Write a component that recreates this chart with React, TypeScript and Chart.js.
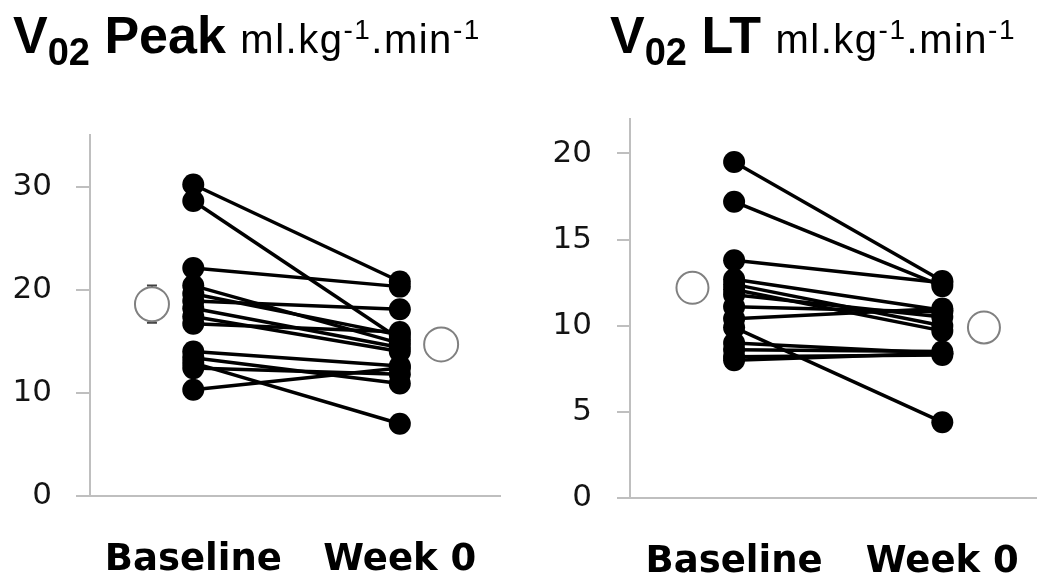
import React, { useEffect, useRef } from 'react';
import { Chart, registerables } from 'chart.js';

Chart.register(...registerables);

// ---- data ----
const categories = ['Baseline', 'Week 0'];

const peakBaseline = [30.2, 28.6, 22.1, 20.4, 19.6, 18.9, 18.2, 17.4, 16.7, 14.0, 13.4, 12.9, 12.4, 10.3];
const peakWeek0 = [20.8, 15.2, 20.3, 14.8, 15.6, 18.1, 14.4, 14.0, 15.9, 12.6, 10.9, 7.0, 11.8, 12.4];
const peakMeans = [18.6, 14.7];
const peakErrors = [1.8, 1.0];
const peakTicks = [0, 10, 20, 30];

const ltBaseline = [19.5, 17.2, 13.8, 12.7, 12.4, 12.1, 11.8, 11.1, 10.4, 9.9, 9.0, 8.6, 8.2, 8.0];
const ltWeek0 = [12.6, 12.3, 12.5, 10.9, 10.0, 9.7, 10.5, 10.8, 11.0, 4.4, 8.4, 8.5, 8.3, 8.4];
const ltMeans = [12.2, 9.9];
const ltErrors = [0.8, 0.7];
const ltTicks = [0, 5, 10, 15, 20];

// category positions on the linear x axis
const CAT_X = [1, 3];
const MEAN_X = [0.6, 3.4];

type PanelCfg = {
  left: number;
  baseline: number[];
  week0: number[];
  means: number[];
  errors: number[];
  ticks: number[];
  yMax: number;
  xMax: number;
  axisW: number;
  xAxisH: number;
  padTop: number;
  padRight: number;
  tickLen: number;
  tickPad: number;
  meanR: number;
};

const PANELS: PanelCfg[] = [
  {
    left: 0, baseline: peakBaseline, week0: peakWeek0, means: peakMeans, errors: peakErrors,
    ticks: peakTicks, yMax: 35, xMax: 3.97, axisW: 90, xAxisH: 89, padTop: 135, padRight: 19,
    tickLen: 14, tickPad: 24, meanR: 17,
  },
  {
    left: 519, baseline: ltBaseline, week0: ltWeek0, means: ltMeans, errors: ltErrors,
    ticks: ltTicks, yMax: 22, xMax: 3.9, axisW: 111, xAxisH: 87, padTop: 119, padRight: 2,
    tickLen: 13, tickPad: 25, meanR: 16,
  },
];

const AXIS_COLOR = '#bfbfbf';

function Panel({ cfg }: { cfg: PanelCfg }) {
  const ref = useRef<HTMLCanvasElement | null>(null);
  useEffect(() => {
    if (!ref.current) return;
    const datasets: any[] = [];
    datasets.push({
      type: 'scatter',
      data: cfg.means.map((m, i) => ({ x: MEAN_X[i], y: m })),
      pointRadius: cfg.meanR,
      pointHoverRadius: cfg.meanR,
      pointBackgroundColor: '#ffffff',
      pointBorderColor: '#808080',
      pointBorderWidth: 2,
      showLine: false,
      clip: false,
    });
    cfg.baseline.forEach((b, i) => {
      datasets.push({
        type: 'line',
        data: [
          { x: CAT_X[0], y: b },
          { x: CAT_X[1], y: cfg.week0[i] },
        ],
        borderColor: '#000000',
        borderWidth: 3.5,
        pointRadius: 11,
        pointHoverRadius: 11,
        pointBackgroundColor: '#000000',
        pointBorderColor: '#000000',
        pointBorderWidth: 0,
        tension: 0,
        clip: false,
      });
    });

    const errorBars = {
      id: 'errorBars',
      beforeDatasetsDraw(chart: any) {
        const { ctx, scales } = chart;
        const xs = scales.x;
        const ys = scales.y;
        ctx.save();
        ctx.strokeStyle = '#404040';
        ctx.lineWidth = 2;
        cfg.means.forEach((m, i) => {
          const px = xs.getPixelForValue(MEAN_X[i]);
          const top = ys.getPixelForValue(m + cfg.errors[i]);
          const bot = ys.getPixelForValue(m - cfg.errors[i]);
          ctx.beginPath();
          ctx.moveTo(px, top);
          ctx.lineTo(px, bot);
          ctx.moveTo(px - 5, top);
          ctx.lineTo(px + 5, top);
          ctx.moveTo(px - 5, bot);
          ctx.lineTo(px + 5, bot);
          ctx.stroke();
        });
        ctx.restore();
      },
    };

    const chart = new Chart(ref.current, {
      type: 'line',
      data: { datasets },
      plugins: [errorBars],
      options: {
        animation: false,
        responsive: false,
        maintainAspectRatio: false,
        devicePixelRatio: 1,
        events: [],
        layout: {
          autoPadding: false,
          padding: { top: cfg.padTop, right: cfg.padRight, left: 0, bottom: 0 },
        },
        plugins: { legend: { display: false }, tooltip: { enabled: false }, title: { display: false } },
        scales: {
          x: {
            type: 'linear',
            min: 0,
            max: cfg.xMax,
            afterBuildTicks: (s: any) => {
              s.ticks = CAT_X.map((v) => ({ value: v }));
            },
            afterFit: (s: any) => {
              s.height = cfg.xAxisH;
              s.paddingLeft = 0;
              s.paddingRight = 0;
              s.paddingTop = 0;
              s.paddingBottom = 0;
            },
            ticks: {
              autoSkip: false,
              maxRotation: 0,
              minRotation: 0,
              padding: 42,
              color: '#000000',
              font: { family: '"DejaVu Sans", sans-serif', size: 37, weight: 'bold' },
              callback: (v: any) => {
                const idx = CAT_X.indexOf(Number(v));
                return idx >= 0 ? categories[idx] : '';
              },
            },
            grid: { display: false, drawTicks: false },
            border: { display: true, color: AXIS_COLOR, width: 2 },
          },
          y: {
            type: 'linear',
            min: 0,
            max: cfg.yMax,
            afterBuildTicks: (s: any) => {
              s.ticks = cfg.ticks.map((v) => ({ value: v }));
            },
            afterFit: (s: any) => {
              s.width = cfg.axisW;
              s.paddingTop = 0;
              s.paddingBottom = 0;
            },
            ticks: {
              padding: cfg.tickPad,
              color: '#141414',
              font: { family: '"DejaVu Sans", sans-serif', size: 31 },
            },
            grid: {
              drawOnChartArea: false,
              drawTicks: true,
              tickLength: cfg.tickLen,
              color: AXIS_COLOR,
              lineWidth: 2,
            },
            border: { display: true, color: AXIS_COLOR, width: 2 },
          },
        },
      } as any,
    });
    return () => chart.destroy();
  }, [cfg]);
  return (
    <canvas
      ref={ref}
      width={519}
      height={585}
      style={{ position: 'absolute', left: cfg.left, top: 0, width: 519, height: 585 }}
    />
  );
}

const titleBase: React.CSSProperties = {
  position: 'absolute',
  top: 9,
  fontFamily: '"Liberation Sans", Arial, sans-serif',
  fontSize: 52,
  lineHeight: '52px',
  whiteSpace: 'nowrap',
  color: '#000',
};
const subStyle: React.CSSProperties = {
  fontSize: 38,
  fontWeight: 700,
  position: 'relative',
  top: 12,
  lineHeight: 0,
};
const unitStyle: React.CSSProperties = {
  fontSize: 40,
  fontWeight: 400,
  lineHeight: 0,
  letterSpacing: 1.5,
};
const supStyle: React.CSSProperties = {
  fontSize: 28,
  position: 'relative',
  top: -14,
  lineHeight: 0,
};

function Title({ left, name }: { left: number; name: string }) {
  return (
    <div style={{ ...titleBase, left }}>
      <span style={{ fontWeight: 700 }}>V</span>
      <span style={subStyle}>02</span>
      <span style={{ fontWeight: 700 }}>{' ' + name + ' '}</span>
      <span style={unitStyle}>
        ml.kg<span style={supStyle}>-1</span>.min<span style={supStyle}>-1</span>
      </span>
    </div>
  );
}

export default function App() {
  return (
    <div
      style={{
        position: 'fixed',
        left: 0,
        top: 0,
        width: 1038,
        height: 585,
        background: '#ffffff',
        overflow: 'hidden',
      }}
    >
      <Panel cfg={PANELS[0]} />
      <Panel cfg={PANELS[1]} />
      <Title left={13} name="Peak" />
      <Title left={610} name="LT" />
    </div>
  );
}
